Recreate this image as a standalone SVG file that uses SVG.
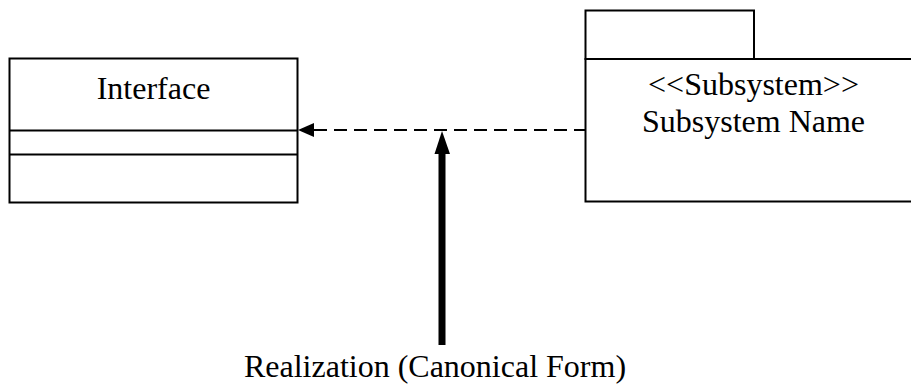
<svg xmlns="http://www.w3.org/2000/svg" width="911" height="392" viewBox="0 0 911 392">
  <style>
    .box { fill: #ffffff; stroke: #000000; stroke-width: 2; }
    .rule { stroke: #000000; stroke-width: 2; fill: none; }
    .label { font-family: "Times New Roman", "Liberation Serif", Times, serif; font-size: 32px; fill: #000000; text-anchor: middle; }
    .dash { stroke: #000000; stroke-width: 2; stroke-dasharray: 13 7; fill: none; }
    .shaft { stroke: #000000; stroke-width: 7; fill: none; }
  </style>

  <rect width="911" height="392" fill="#ffffff"/>

  <!-- Interface class box with two empty compartments -->
  <g id="interface">
    <rect class="box" x="9.5" y="58.5" width="288" height="144"/>
    <line class="rule" x1="9.5" y1="130.5" x2="297.5" y2="130.5"/>
    <line class="rule" x1="9.5" y1="154.5" x2="297.5" y2="154.5"/>
    <text class="label" x="153.5" y="99">Interface</text>
  </g>

  <!-- Subsystem package (runs past the right edge) -->
  <g id="subsystem">
    <rect class="box" x="585.5" y="10.5" width="168.5" height="48.5"/>
    <rect class="box" x="585.5" y="59" width="340" height="142.5"/>
    <text class="label" x="753.5" y="95">&lt;&lt;Subsystem&gt;&gt;</text>
    <text class="label" x="753.5" y="132">Subsystem Name</text>
  </g>

  <!-- Connectors -->
  <g id="connectors">
    <line class="dash" x1="314" y1="130" x2="585" y2="130"/>
    <path d="M298,130 L314,123 L314,137 Z" fill="#000000"/>
    <line class="shaft" x1="442" y1="150" x2="442" y2="345"/>
    <path d="M442,131 L434.5,154 L450,154 Z" fill="#000000"/>
  </g>

  <!-- Caption -->
  <g id="caption">
    <text class="label" x="435" y="377">Realization (Canonical Form)</text>
  </g>
</svg>
